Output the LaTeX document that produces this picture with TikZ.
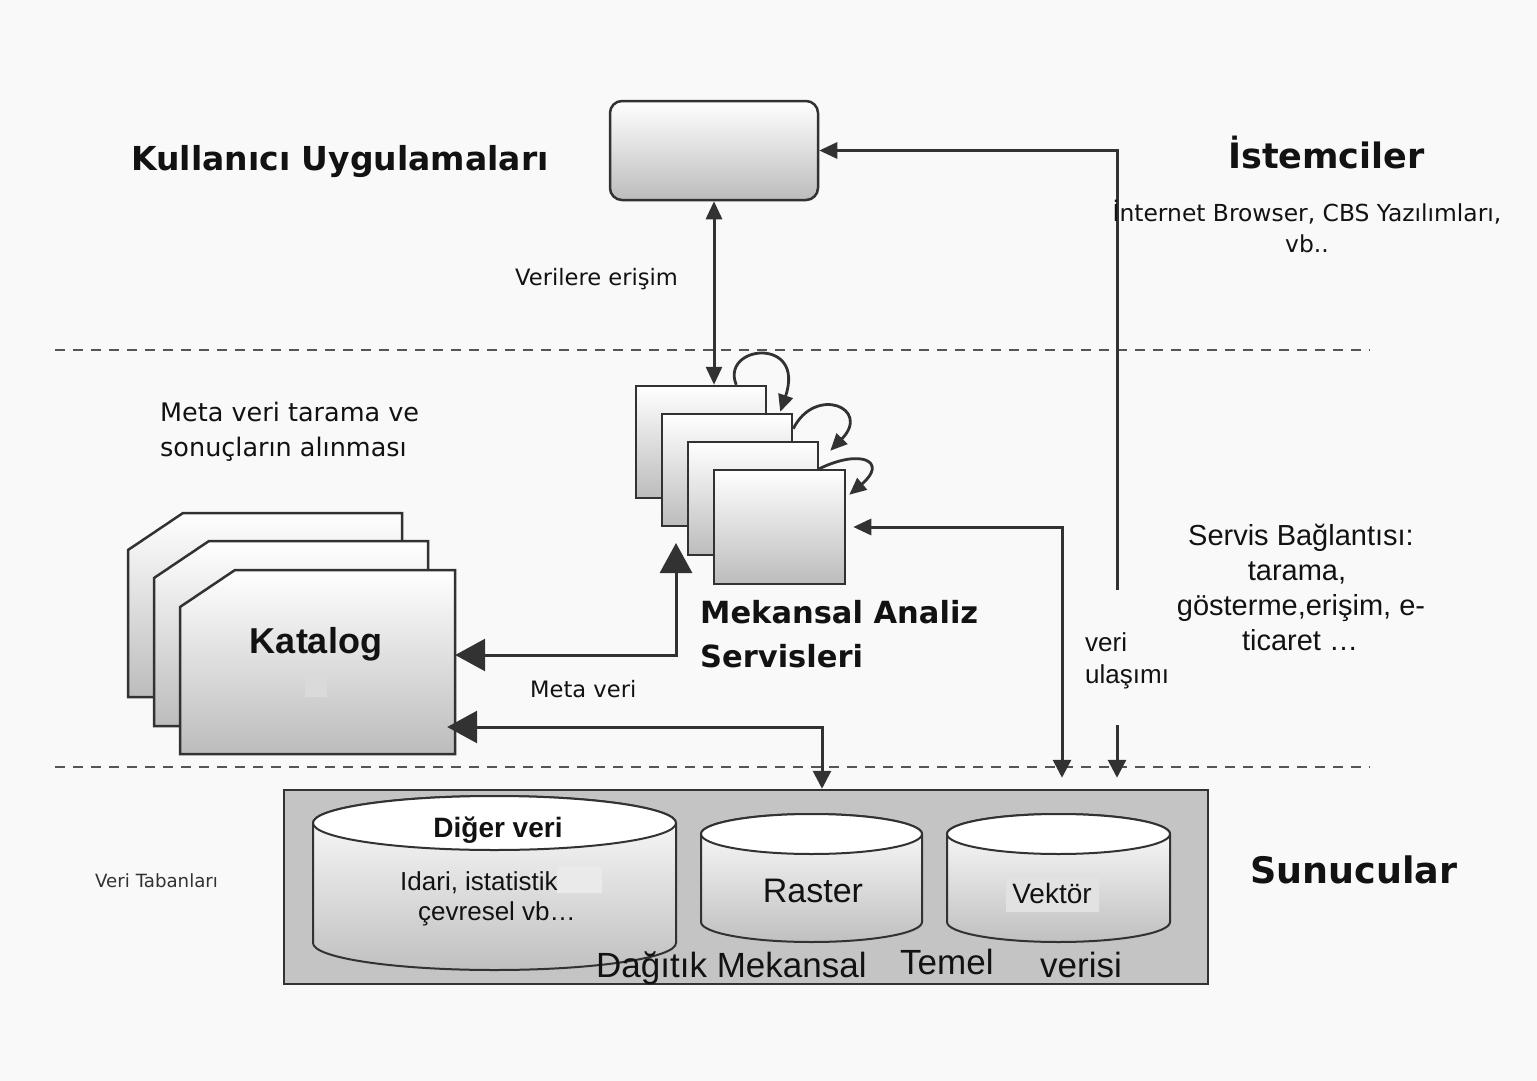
\documentclass[tikz,border=0pt]{standalone}
\usepackage{fontspec}
\setmainfont{Liberation Sans}
\newfontfamily\djv{DejaVu Sans}
\usetikzlibrary{arrows.meta}
\definecolor{bgc}{RGB}{249,249,249}
\definecolor{ln}{RGB}{50,50,50}
\definecolor{shd}{RGB}{188,188,188}
\definecolor{srvc}{RGB}{196,196,196}
\definecolor{cylc}{RGB}{192,192,192}
\definecolor{txt}{RGB}{18,18,18}
\definecolor{dsh}{RGB}{85,85,85}
\tikzset{
  Tsm/.tip={Triangle[length=18pt,width=16pt]},
  Tbg/.tip={Triangle[length=30pt,width=32pt]},
  Tlp/.tip={Triangle[length=17pt,width=15pt]},
  Tdn/.tip={Triangle[length=18pt,width=18pt]},
  gbox/.style={draw=ln, line width=2.5pt, top color=white, bottom color=shd, inner sep=0pt},
  conn/.style={draw=ln, line width=3pt},
  loopc/.style={draw=ln, line width=2.8pt},
  dline/.style={draw=dsh, line width=2pt, dash pattern=on 10pt off 8pt},
  lbl/.style={text=txt, inner sep=0pt, anchor=base west},
  lblc/.style={text=txt, inner sep=0pt, anchor=base},
}
\newcommand\dbcyl[7]{% L R cx rx yt yb ry
  \path[draw=ln,line width=2pt,top color=white,bottom color=cylc]
    (#1,-#5) -- (#1,-#6) arc[start angle=180,end angle=360,x radius=#4pt,y radius=#7pt]
    -- (#2,-#5) arc[start angle=0,end angle=180,x radius=#4pt,y radius=#7pt] -- cycle;
  \draw[draw=ln,line width=2pt,fill=white] (#3,-#5) ellipse[x radius=#4pt,y radius=#7pt];
}
\begin{document}
\begin{tikzpicture}[x=1pt,y=1pt]
\useasboundingbox (0,0) rectangle (1537,-1081);
\fill[bgc] (0,0) rectangle (1537,-1081);

% dashed separators
\draw[dline] (55,-350) -- (1370,-350);
\draw[dline] (55,-767) -- (1370,-767);

% top client box
\node[gbox, rounded corners=12pt, minimum width=208pt, minimum height=99pt] (top) at (714,-150.5) {};

% service stack
\node[gbox, minimum width=130pt, minimum height=112pt] (s1) at (701,-442) {};
\node[gbox, minimum width=130pt, minimum height=112pt] (s2) at (727,-470) {};
\node[gbox, minimum width=130pt, minimum height=113pt] (s3) at (753,-498.5) {};
\node[gbox, minimum width=131pt, minimum height=114pt] (s4) at (779.5,-527) {};

% self loops
\draw[loopc,-Tlp] ([xshift=-31pt]s1.north east) .. controls (720,-345) and (806,-336) .. ([xshift=-13pt,yshift=1pt]s2.north east);
\draw[loopc,-Tlp] ([yshift=-16pt]s2.north east) .. controls (815,-385) and (872,-408) .. ([xshift=11pt,yshift=-10pt]s3.north east);
\draw[loopc,-Tlp] ([yshift=-28pt]s3.north east) .. controls (862,-448) and (888,-462) .. ([xshift=3pt,yshift=-26pt]s4.north east);

% catalog stack
\path[gbox] (183,-513) -- (402,-513) -- (402,-697) -- (128,-697) -- (128,-550) -- cycle;
\path[gbox] (209,-541) -- (428,-541) -- (428,-726) -- (154,-726) -- (154,-578) -- cycle;
\path[gbox] (235,-570) -- (455,-570) -- (455,-754) -- (180,-754) -- (180,-607) -- cycle;
\fill[fill={rgb,255:red,218;green,218;blue,218}] (305,-675) rectangle (327,-697);
\node[minimum width=275pt, minimum height=184pt, inner sep=0pt] (kat) at (317.5,-662) {};
\node[lblc, font=\bfseries\fontsize{36}{40}\selectfont] (katT) at (316,-653) {Katalog};

% server box and databases
\node[draw=ln, line width=2.5pt, fill=srvc, minimum width=924pt, minimum height=194pt, inner sep=0pt] (srv) at (746,-887) {};
\dbcyl{313}{676}{494.5}{181.5}{823}{943}{27}
\dbcyl{701}{922}{811.5}{110.5}{834}{922}{20}
\dbcyl{947}{1170}{1058.5}{111.5}{834}{922}{20}
\fill[fill={rgb,255:red,234;green,234;blue,234}] (557,-867) rectangle (602,-893);
\fill[fill={rgb,255:red,226;green,226;blue,226}] (1006,-878) rectangle (1099,-912);

% connectors
\coordinate (r1) at (1117,-150.5);
\coordinate (r2) at (1117,-590);
\coordinate (r3) at (1117,-725);
\coordinate (q1) at (1062,-527);
\coordinate (j1) at (676,-655);
\coordinate (j2) at (676,-543);
\coordinate (k1) at (822,-727);

\draw[conn,Tsm-Tsm] (top.south) -- (top.south |- s1.north);
\draw[conn,-Tsm] (r2) -- (r1) -- (top.east);
\draw[conn,-Tdn,shorten >=11pt] (r3) -- (srv.north -| r3);
\draw[conn,Tsm-Tdn,shorten <=7pt,shorten >=11pt] (s4.east) -- (q1) -- (srv.north -| q1);
\draw[conn,Tbg-Tbg] (kat.east |- j1) -- (j1) -- (j2);
\draw[conn,Tbg-Tdn,shorten <=-8pt] (kat.east |- k1) -- (k1) -- (srv.north -| k1);

% labels
\node[lbl, font=\djv\bfseries\fontsize{33}{40}\selectfont] (ku) at (131,-170) {Kullanıcı Uygulamaları};
\node[lbl, font=\djv\bfseries\fontsize{35}{40}\selectfont] (ist) at (1228,-168) {İstemciler};
\node[lblc, font=\djv\fontsize{23.4}{28}\selectfont] (ib1) at (1307,-221) {İnternet Browser, CBS Yazılımları,};
\node[lblc, font=\djv\fontsize{23.4}{28}\selectfont] (ib2) at (1307,-252) {vb..};
\node[lbl, font=\djv\fontsize{22.6}{28}\selectfont] (ve) at (515,-285) {Verilere erişim};
\node[lbl, font=\djv\fontsize{25.5}{30}\selectfont] (mv1) at (160,-421) {Meta veri tarama ve};
\node[lbl, font=\djv\fontsize{25.5}{30}\selectfont] (mv2) at (160,-456) {sonuçların alınması};
\node[lbl, font=\djv\bfseries\fontsize{30.5}{36}\selectfont] (ma1) at (700,-623) {Mekansal Analiz};
\node[lbl, font=\djv\bfseries\fontsize{30.5}{36}\selectfont] (ma2) at (700,-667) {Servisleri};
\node[lbl, font=\djv\fontsize{22.6}{28}\selectfont] (mv) at (530,-697) {Meta veri};
\node[lblc, font=\fontsize{29}{34}\selectfont] (sb1) at (1301,-545) {Servis Bağlantısı:};
\node[lblc, font=\fontsize{29}{34}\selectfont] (sb2) at (1297,-580) {tarama,};
\node[lblc, font=\fontsize{29}{34}\selectfont] (sb3) at (1301,-615) {gösterme,erişim, e-};
\node[lblc, font=\fontsize{29}{34}\selectfont] (sb4) at (1300,-650) {ticaret …};
\node[lbl, font=\fontsize{26}{30}\selectfont] (vu1) at (1085,-651) {veri};
\node[lbl, font=\fontsize{26}{30}\selectfont] (vu2) at (1085,-683) {ulaşımı};
\node[lbl, font=\djv\bfseries\fontsize{36.5}{42}\selectfont] (sun) at (1250,-883) {Sunucular};
\node[lbl, font=\djv\fontsize{18.2}{22}\selectfont, text=ln] (vt) at (95,-887) {Veri Tabanları};
\node[lblc, font=\bfseries\fontsize{28}{32}\selectfont] (dv) at (498,-837) {Diğer veri};
\node[lbl, font=\fontsize{26}{30}\selectfont] (id1) at (400,-890) {Idari, istatistik};
\node[lbl, font=\fontsize{26}{30}\selectfont] (id2) at (418,-920) {çevresel vb…};
\node[lblc, font=\fontsize{34}{38}\selectfont] (ras) at (813,-902) {Raster};
\node[lblc, font=\fontsize{28}{32}\selectfont] (vek) at (1052,-903) {Vektör};
\node[lbl, font=\fontsize{35}{40}\selectfont] (dm) at (596,-977) {Dağıtık Mekansal};
\node[lbl, font=\fontsize{35}{40}\selectfont] (tm) at (900,-974) {Temel};
\node[lbl, font=\fontsize{35}{40}\selectfont] (vr) at (1040,-977) {verisi};
\end{tikzpicture}
\end{document}
